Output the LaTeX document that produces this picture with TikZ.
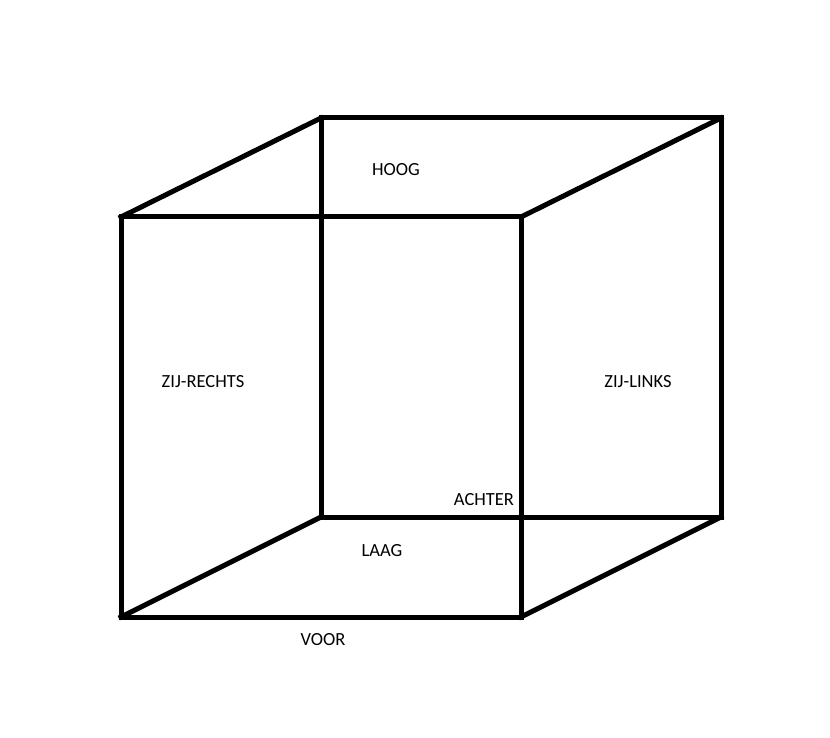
\documentclass[tikz,border=0pt]{standalone}
\usepackage{fontspec}
\setmainfont{Carlito}
\begin{document}
\begin{tikzpicture}[x=1pt,y=-1pt,
  edge/.style={line width=5pt,line join=miter,line cap=rect},
  lbl/.style={font=\fontsize{18.5}{20}\selectfont,inner sep=0pt,anchor=center}]
\useasboundingbox (0,0) rectangle (830,738);
\fill[white] (0,0) rectangle (830,738);
% front square
\coordinate (f1) at (121,217);
\coordinate (f2) at (521,217);
\coordinate (f3) at (521,617);
\coordinate (f4) at (121,617);
% back square
\coordinate (b1) at (321,118);
\coordinate (b2) at (721,118);
\coordinate (b3) at (721,517);
\coordinate (b4) at (321,517);
\draw[edge] (f1) -- (f2) -- (f3) -- (f4) -- cycle;
\draw[edge] (b1) -- (b2) -- (b3) -- (b4) -- cycle;
\draw[edge] (f1) -- (b1);
\draw[edge] (f2) -- (b2);
\draw[edge] (f3) -- (b3);
\draw[edge] (f4) -- (b4);
\node[lbl] (hoog) at (396,170) {HOOG};
\node[lbl] (zr) at (203,382) {ZIJ-RECHTS};
\node[lbl] (zl) at (638,382) {ZIJ-LINKS};
\node[lbl] (achter) at (484,500) {ACHTER};
\node[lbl] (laag) at (382,551) {LAAG};
\node[lbl] (voor) at (323,640) {VOOR};
\end{tikzpicture}
\end{document}
